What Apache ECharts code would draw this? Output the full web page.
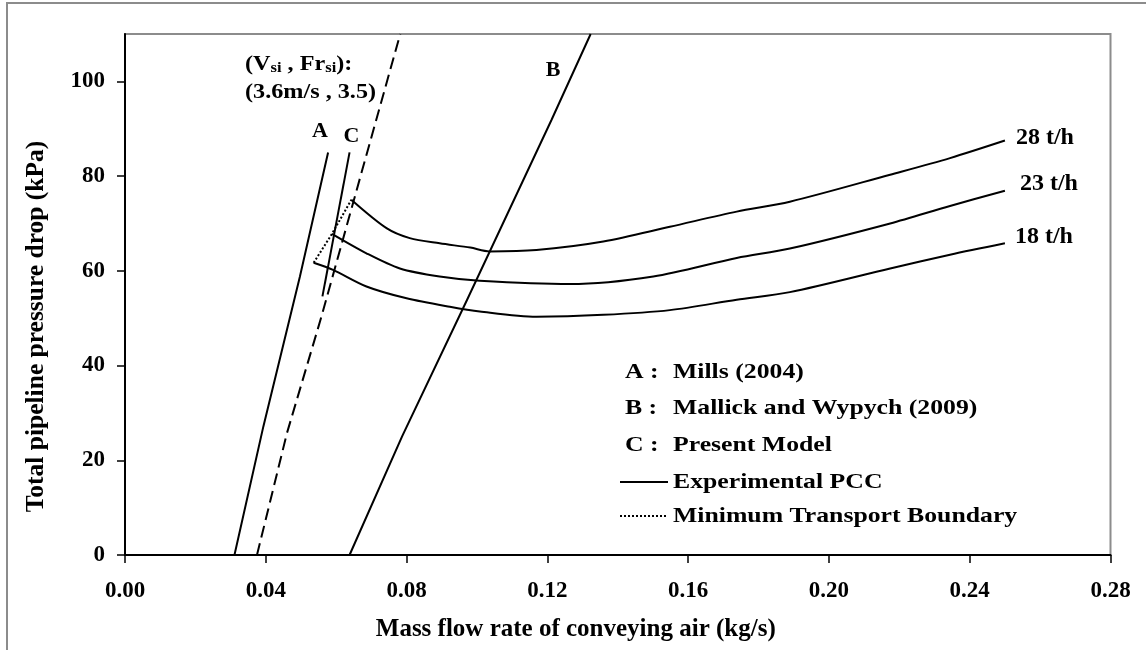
<!DOCTYPE html>
<html>
<head>
<meta charset="utf-8">
<script src="https://cdn.jsdelivr.net/npm/echarts@6/dist/echarts.min.js"></script>
<style>
  html, body { margin: 0; padding: 0; background: #ffffff; }
  #chart { width: 1146px; height: 650px; }
</style>
</head>
<body>
<div id="chart"></div>
<script>
// Pressure drop vs. air mass flow: experimental PCC curves (x in kg/s, y in kPa)
const pcc28 = [[0.0643, 75.0], [0.0743, 69.0], [0.0809, 66.9], [0.0894, 65.8], [0.0981, 64.9], [0.1036, 64.1],
  [0.1169, 64.4], [0.1359, 66.2], [0.1548, 69.3], [0.1738, 72.5], [0.1889, 74.6], [0.2174, 80.3], [0.2344, 83.8], [0.2500, 87.5]];
const pcc23 = [[0.0588, 67.8], [0.0686, 63.7], [0.0781, 60.5], [0.0894, 58.8], [0.1008, 57.9], [0.1264, 57.2],
  [0.1501, 58.8], [0.1738, 62.7], [0.1889, 64.7], [0.2174, 70.0], [0.2344, 73.7], [0.2500, 76.9]];
const pcc18 = [[0.0536, 61.7], [0.0591, 60.2], [0.0686, 56.7], [0.0800, 54.2], [0.0923, 52.4], [0.1008, 51.4],
  [0.1169, 50.3], [0.1359, 50.7], [0.1548, 51.7], [0.1738, 53.9], [0.1889, 55.5], [0.2174, 60.5], [0.2344, 63.4], [0.2500, 65.8]];
// Minimum transport boundary joining the curve minima
const minBoundary = [[0.0536, 61.7], [0.0588, 67.8], [0.0643, 75.0]];
// Model predictions of the boundary
const millsA = [[0.0311, 0], [0.0393, 27.1], [0.0497, 58.8], [0.0577, 85.0]];
const mallickB = [[0.0638, 0], [0.0787, 25.0], [0.0972, 53.9], [0.1212, 91.9], [0.1323, 110]];
const presentC = [[0.0561, 54.6], [0.0638, 85.0]];
const vsiLine = [[0.0375, 0], [0.0460, 25.7], [0.0558, 50.3], [0.0673, 81.0], [0.0782, 110]];

const curveNames = ['28 t/h', '23 t/h', '18 t/h'];
const modelKeys = ['A', 'B', 'C'];
const xTickValues = [0, 0.04, 0.08, 0.12, 0.16, 0.20, 0.24, 0.28];
const yTickValues = [0, 20, 40, 60, 80, 100];
const legendKeys = ['A :', 'B :', 'C :'];
const legendNames = ['Mills (2004)', 'Mallick and Wypych (2009)', 'Present Model', 'Experimental PCC', 'Minimum Transport Boundary'];
const xTitle = 'Mass flow rate of conveying air (kg/s)';
const yTitle = 'Total pipeline pressure drop (kPa)';
const vsiLines = ['(V', 'si', ' , Fr', 'si', '):', '(3.6m/s , 3.5)'];

const SERIF = "'Liberation Serif', 'Times New Roman', serif";
const black = '#000000';

const txt = (size) => ({ fontFamily: SERIF, fontWeight: 'bold', fontSize: size, color: black });

function curveSeries(name, data, off) {
  return {
    name: name, type: 'line', data: data, symbol: 'none', smooth: 0.3,
    lineStyle: { color: black, width: 2 },
    endLabel: Object.assign({ show: true, formatter: '{a}', distance: 0, offset: off }, txt(24)),
    z: 3
  };
}
function modelSeries(name, data, type, labelOff) {
  const s = {
    name: name, type: 'line', data: data, symbol: 'none',
    lineStyle: { color: black, width: 2, type: type }, z: 2
  };
  if (labelOff) {
    s.endLabel = Object.assign({ show: true, formatter: '{a}', distance: 0, offset: labelOff }, txt(22));
  }
  return s;
}

const chart = echarts.init(document.getElementById('chart'), null, { renderer: 'canvas' });

// Legend block (drawn text, slightly widened lettering)
const legendX = 625, nameX = 673, stretch = 1.17;
const legendY = [372, 408, 445, 482, 516];
const graphics = [
  { type: 'rect', shape: { x: 7, y: 3, width: 1200, height: 700 },
    style: { fill: 'none', stroke: '#8c8c8c', lineWidth: 2 }, silent: true }
];
for (let i = 0; i < 3; i++) {
  graphics.push({ type: 'text', x: legendX, y: legendY[i], scaleX: stretch,
    style: { text: legendKeys[i], verticalAlign: 'middle', font: 'bold 22px ' + SERIF, fill: black } });
}
for (let i = 0; i < legendNames.length; i++) {
  graphics.push({ type: 'text', x: nameX, y: legendY[i], scaleX: stretch,
    style: { text: legendNames[i], verticalAlign: 'middle', font: 'bold 22px ' + SERIF, fill: black } });
}
graphics.push({ type: 'line', shape: { x1: 620, y1: legendY[3], x2: 668, y2: legendY[3] },
  style: { stroke: black, lineWidth: 2 } });
graphics.push({ type: 'line', shape: { x1: 620, y1: legendY[4], x2: 666, y2: legendY[4] },
  style: { stroke: black, lineWidth: 2, lineDash: [2, 2] } });
// Superficial velocity annotation
graphics.push({ type: 'text', x: 245, y: 64, scaleX: 1.1,
  style: {
    text: '{b|' + vsiLines[0] + '}{s|' + vsiLines[1] + '}{b|' + vsiLines[2] + '}{s|' + vsiLines[3] + '}{b|' + vsiLines[4] + '}',
    verticalAlign: 'middle',
    rich: {
      b: { font: 'bold 22px ' + SERIF, fill: black, verticalAlign: 'bottom' },
      s: { font: 'bold 15px ' + SERIF, fill: black, padding: [8, 0, 0, 0] }
    }
  } });
graphics.push({ type: 'text', x: 245, y: 92, scaleX: 1.1,
  style: { text: vsiLines[5], verticalAlign: 'middle', font: 'bold 22px ' + SERIF, fill: black } });

const option = {
  animation: false,
  backgroundColor: '#ffffff',
  grid: { left: 125, right: 35.5, top: 34, bottom: 95, show: true, borderColor: '#8c8c8c', borderWidth: 2, backgroundColor: 'transparent' },
  xAxis: {
    type: 'value', min: 0, max: 0.28, interval: 0.04,
    name: xTitle, nameLocation: 'middle', nameGap: 62,
    nameTextStyle: Object.assign(txt(25), { padding: [0, 84, 0, 0] }),
    axisLine: { show: true, onZero: false, lineStyle: { color: black, width: 2 } },
    axisTick: { show: true, inside: false, length: 8, customValues: xTickValues, lineStyle: { color: black, width: 1.5 } },
    axisLabel: Object.assign(txt(23), { margin: 25, customValues: xTickValues, formatter: (v) => v.toFixed(2) }),
    splitLine: { show: false }
  },
  yAxis: {
    type: 'value', min: 0, max: 110, interval: 20,
    name: yTitle, nameLocation: 'middle', nameGap: 76, nameRotate: 90,
    nameTextStyle: Object.assign(txt(25.5), { padding: [0, 64, 0, 0] }),
    axisLine: { show: true, onZero: false, lineStyle: { color: black, width: 2 } },
    axisTick: { show: true, inside: false, length: 8, customValues: yTickValues, lineStyle: { color: black, width: 1.5 } },
    axisLabel: Object.assign(txt(23), { margin: 20, customValues: yTickValues, formatter: (v) => String(v) }),
    splitLine: { show: false }
  },
  series: [
    curveSeries(curveNames[0], pcc28, [11, -3]),
    curveSeries(curveNames[1], pcc23, [15, -7]),
    curveSeries(curveNames[2], pcc18, [10, -7]),
    {
      name: 'Minimum Transport Boundary', type: 'line', data: minBoundary, symbol: 'none',
      lineStyle: { color: black, width: 2, type: [2, 2] }, z: 2
    },
    modelSeries(modelKeys[0], millsA, 'solid', [-16, -21]),
    modelSeries(modelKeys[1], mallickB, 'solid', [-45, 36]),
    modelSeries(modelKeys[2], presentC, 'solid', [-6, -16]),
    modelSeries('Vsi', vsiLine, [12, 6], null)
  ],
  graphic: graphics
};
chart.setOption(option);
</script>
</body>
</html>
